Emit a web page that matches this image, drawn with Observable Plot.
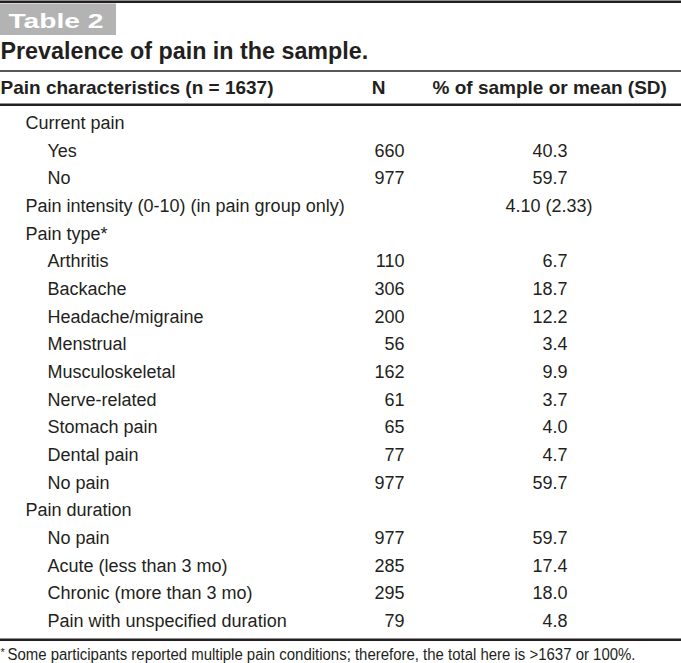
<!DOCTYPE html>
<html><head><meta charset="utf-8">
<script src="https://cdn.jsdelivr.net/npm/d3@7"></script>
<script src="https://cdn.jsdelivr.net/npm/@observablehq/plot@0.6"></script>
<style>
html,body{margin:0;padding:0;background:#fff;}
#chart svg{display:block;}
</style></head><body><div id="chart"></div>
<script>
// ---- data ----
const tableLabel = "Table 2";
const tableTitle = "Prevalence of pain in the sample.";
const columnHeaders = ["Pain characteristics (n = 1637)", "N", "% of sample or mean (SD)"];
const rowLabels = ["Current pain","Yes","No","Pain intensity (0-10) (in pain group only)","Pain type*","Arthritis","Backache","Headache/migraine","Menstrual","Musculoskeletal","Nerve-related","Stomach pain","Dental pain","No pain","Pain duration","No pain","Acute (less than 3 mo)","Chronic (more than 3 mo)","Pain with unspecified duration"];
const rowLevels = [1,2,2,1,1,2,2,2,2,2,2,2,2,2,1,2,2,2,2];
const nValues = [null,660,977,null,null,110,306,200,56,162,61,65,77,977,null,977,285,295,79];
const pctValues = [null,40.3,59.7,null,null,6.7,18.7,12.2,3.4,9.9,3.7,4.0,4.7,59.7,null,59.7,17.4,18.0,4.8];
const intensityRow = 3;
const intensityMean = 4.10;
const intensitySD = 2.33;
const footnoteMark = "*";
const footnoteText = "Some participants reported multiple pain conditions; therefore, the total here is >1637 or 100%.";

// ---- layout ----
const W = 681, H = 663;
const ROW_STEP = 27.67, FIRST_BASELINE = 128.5;
const toRow = px => (px - FIRST_BASELINE) / ROW_STEP;
const indent = {1: 25, 2: 47};
const N_RIGHT = 404, PCT_RIGHT = 567, MEAN_RIGHT = 592;
const sans = "'Liberation Sans',Arial,Helvetica,sans-serif";
const ink = "#231f20";
const BODY = 18;

const rows = rowLabels.map((label, i) => ({i, label, level: rowLevels[i], n: nValues[i], pct: pctValues[i]}));

const txt = {lineAnchor: "bottom", fill: ink, fontFamily: sans};
const body = {...txt, fontSize: BODY};
const head = {...txt, fontSize: 19, fontWeight: "bold", y: toRow(93.5)};

const plot = Plot.plot({
  width: W, height: H, margin: 0,
  x: {domain: [0, W], range: [0, W], axis: null},
  y: {domain: [toRow(0), toRow(H)], range: [0, H], axis: null},
  marks: [
    Plot.ruleY([toRow(1.3)], {stroke: ink, strokeWidth: 2.6}),
    Plot.rect([tableLabel], {x1: 0, x2: 116, y1: toRow(3.5), y2: toRow(35), fill: "#b3b3b3"}),
    Plot.text([tableLabel], {...txt, x: 8, y: toRow(27), text: d => d, textAnchor: "start", fill: "#fff", fontWeight: "bold", fontSize: 20}),
    Plot.text([tableTitle], {...txt, x: 0, y: toRow(58), text: d => d, textAnchor: "start", fontWeight: "bold", fontSize: 23.3}),
    Plot.ruleY([toRow(70.5)], {stroke: ink, strokeWidth: 1.6}),
    Plot.text([columnHeaders[0]], {...head, x: 0, text: d => d, textAnchor: "start"}),
    Plot.text([columnHeaders[1]], {...head, x: 378, text: d => d, textAnchor: "middle"}),
    Plot.text([columnHeaders[2]], {...head, x: 432, text: d => d, textAnchor: "start"}),
    Plot.ruleY([toRow(104.3)], {stroke: ink, strokeWidth: 2.6}),
    Plot.text(rows, {...body, x: d => indent[d.level], y: "i", text: "label", textAnchor: "start"}),
    Plot.text(rows.filter(d => d.n != null), {...body, x: N_RIGHT, y: "i", text: d => String(d.n), textAnchor: "end"}),
    Plot.text(rows.filter(d => d.pct != null), {...body, x: PCT_RIGHT, y: "i", text: d => d.pct.toFixed(1), textAnchor: "end"}),
    Plot.text([{i: intensityRow}], {...body, x: MEAN_RIGHT, y: "i", text: () => `${intensityMean.toFixed(2)} (${intensitySD.toFixed(2)})`, textAnchor: "end"}),
    Plot.ruleY([toRow(639.3)], {stroke: ink, strokeWidth: 2.6}),
    Plot.text([footnoteMark], {...txt, x: 0, y: toRow(655), text: d => d, textAnchor: "start", fontSize: 11}),
    Plot.text([footnoteText], {...txt, x: 7, y: toRow(659.5), text: d => d, textAnchor: "start", fontSize: 16})
  ]
});
// condensed / extended typesetting to match the printed table's fonts
const svg = d3.select(plot);
svg.selectAll("text").filter(function () { return this.textContent === tableLabel; })
  .attr("textLength", 95).attr("lengthAdjust", "spacingAndGlyphs");
svg.selectAll("text").filter(function () { return this.textContent === footnoteText; })
  .attr("textLength", 628).attr("lengthAdjust", "spacingAndGlyphs");
document.getElementById("chart").append(plot);
</script></body></html>
